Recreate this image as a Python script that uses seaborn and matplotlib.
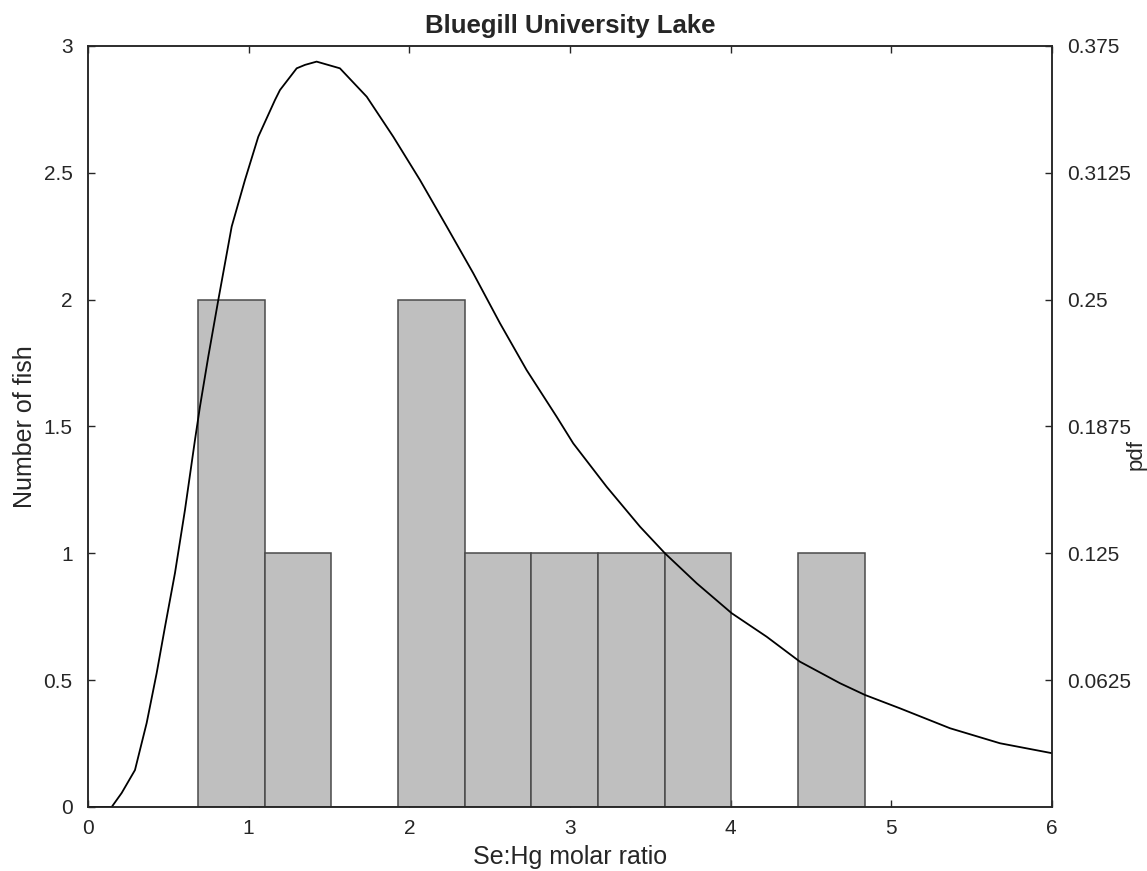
import numpy as np
import matplotlib
matplotlib.use("Agg")
import matplotlib.pyplot as plt
import seaborn as sns

# histogram: bin edges and fish counts
bin_edges = [0.685, 1.102, 1.512, 1.929, 2.346, 2.757, 3.174, 3.591, 4.002, 4.419, 4.836]
fish_counts = [2, 1, 0, 2, 1, 1, 1, 1, 0, 1]

# fitted pdf curve
pdf_x = [0.0, 0.1475, 0.2097, 0.2925, 0.3653, 0.4276, 0.4792, 0.5415, 0.6037, 0.666,
         0.697, 0.7487, 0.811, 0.8944, 0.9772, 1.06, 1.164, 1.195, 1.299, 1.351,
         1.423, 1.568, 1.735, 1.9, 2.066, 2.233, 2.398, 2.564, 2.73, 2.917,
         3.02, 3.228, 3.436, 3.591, 3.789, 4.006, 4.224, 4.431, 4.68, 4.836,
         5.054, 5.365, 5.676, 6.0]
pdf_y = [0.0, 0.0, 0.0069, 0.0182, 0.0414, 0.066, 0.0887, 0.1153, 0.1464, 0.1809,
         0.1973, 0.2219, 0.2498, 0.286, 0.309, 0.3303, 0.3484, 0.3533, 0.364, 0.3657,
         0.3673, 0.364, 0.35, 0.3303, 0.309, 0.286, 0.263, 0.2384, 0.2153, 0.1923,
         0.1792, 0.1578, 0.1381, 0.125, 0.1102, 0.0955, 0.0839, 0.0716, 0.061, 0.0552,
         0.0486, 0.0388, 0.0314, 0.0265]

left_ticks = [0, 0.5, 1, 1.5, 2, 2.5, 3]
left_labels = ["0", "0.5", "1", "1.5", "2", "2.5", "3"]
right_ticks = [0.0625, 0.125, 0.1875, 0.25, 0.3125, 0.375]
right_labels = ["0.0625", "0.125", "0.1875", "0.25", "0.3125", "0.375"]
x_ticks = [0, 1, 2, 3, 4, 5, 6]

sns.set_style("ticks")
plt.rcParams["font.family"] = ["Liberation Sans", "DejaVu Sans"]
axis_col = "#262626"

fig = plt.figure(figsize=(11.47, 8.71), dpi=100)
ax = fig.add_axes([0.0767, 0.0735, 0.8405, 0.8737])

centers = [(bin_edges[i] + bin_edges[i + 1]) / 2 for i in range(len(fish_counts))]
sns.histplot(x=centers, weights=fish_counts, bins=bin_edges, ax=ax,
             color="#bfbfbf", edgecolor="#4a4a4a", linewidth=1.1, alpha=1)

ax.set_xlim(0, 6)
ax.set_ylim(0, 3)
ax.set_xticks(x_ticks)
ax.set_xticklabels([str(t) for t in x_ticks])
ax.set_yticks(left_ticks)
ax.set_yticklabels(left_labels)
ax.tick_params(direction="in", top=True, length=5, width=1, labelsize=15,
               colors=axis_col, pad=11)
ax.tick_params(axis="x", pad=9)
ax.set_xlabel("Se:Hg molar ratio", fontsize=18, color=axis_col, labelpad=5)
ax.set_ylabel("Number of fish", fontsize=18, color=axis_col, labelpad=5)
ax.set_title("Bluegill University Lake", fontsize=18.5, fontweight="bold", pad=9)

ax2 = ax.twinx()
sns.lineplot(x=pdf_x, y=pdf_y, ax=ax2, color="black", linewidth=1.3)
ax2.set_ylim(0, 0.375)
ax2.set_yticks(right_ticks)
ax2.set_yticklabels(right_labels)
ax2.tick_params(direction="in", length=5, width=1, labelsize=15, colors=axis_col, pad=11)
ax2.set_ylabel("pdf", fontsize=16, color=axis_col)
ax2.yaxis.set_label_coords(1.076, 0.463)

for a in (ax, ax2):
    for s in a.spines.values():
        s.set_visible(True)
        s.set_color(axis_col)
        s.set_linewidth(1.1)

fig.savefig("out.png", dpi=100)
